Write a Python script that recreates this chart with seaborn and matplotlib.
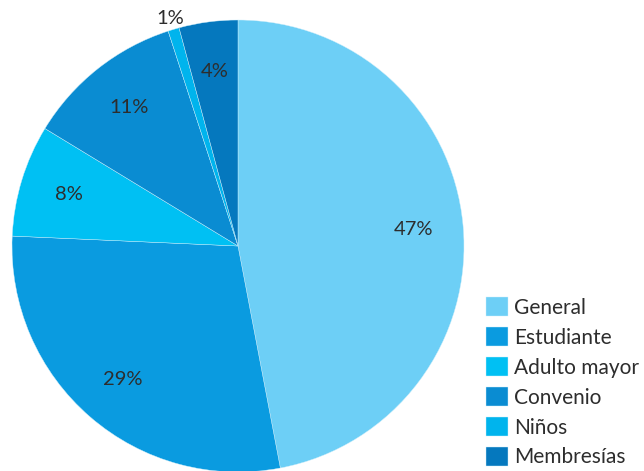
import matplotlib
matplotlib.use("Agg")
import matplotlib.pyplot as plt
import seaborn as sns
import numpy as np

categories = ["General", "Estudiante", "Adulto mayor", "Convenio", "Niños", "Membresías"]
values = [47.0, 28.7, 8.0, 11.3, 0.8, 4.2]
labels = ["47%", "29%", "8%", "11%", "1%", "4%"]
colors = ["#6dcff6", "#0a9be0", "#00c0f3", "#0a8cd2", "#00b4ed", "#0578be"]

sns.set_theme(style="white")
plt.rcParams["font.family"] = ["Lato", "DejaVu Sans"]

W, H = 644, 471
fig = plt.figure(figsize=(W / 100, H / 100), dpi=100)
R = 226
cx, cy = 238, H - 246
ax = fig.add_axes([(cx - R) / W, (cy - R) / H, 2 * R / W, 2 * R / H])

wedges, _ = ax.pie(values, colors=colors, startangle=90, counterclock=False,
                   radius=1.0, wedgeprops=dict(edgecolor="#cdeefb", linewidth=0.3))
ax.set_xlim(-1, 1)
ax.set_ylim(-1, 1)
ax.set_aspect("equal")
ax.axis("off")

for w, v, lab in zip(wedges, values, labels):
    mid = np.deg2rad((w.theta1 + w.theta2) / 2)
    r = 1.05 if v < 2 else 0.78
    ax.text(r * np.cos(mid), r * np.sin(mid), lab, ha="center", va="center",
            fontsize=14.5, color="#2d2d2d")

fig.legend(wedges, categories, loc="upper left", bbox_to_anchor=(486 / W, 1 - 297 / H),
           frameon=False, fontsize=15, handlelength=1.05, handleheight=1.05,
           handletextpad=0.3, labelspacing=0.44, borderpad=0, borderaxespad=0,
           labelcolor="#2d2d2d")

fig.savefig("out.png", dpi=100)
